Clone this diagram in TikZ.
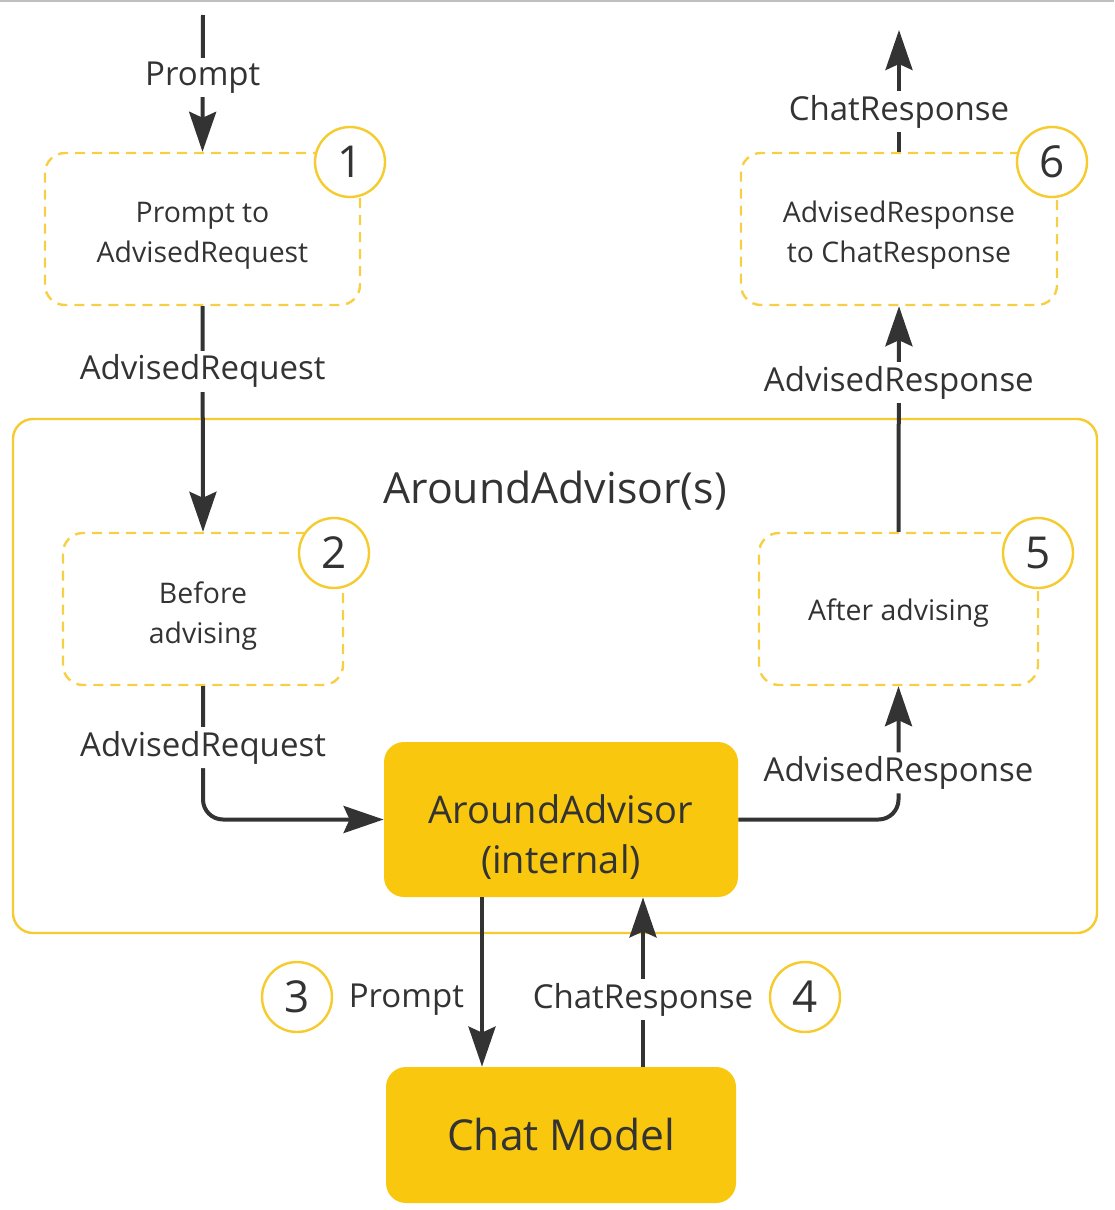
\documentclass[tikz,border=0pt]{standalone}
\usepackage{fontspec}
\setmainfont{Open Sans}
\usetikzlibrary{arrows.meta}
\definecolor{advyellow}{HTML}{F9C80E}
\definecolor{dashyellow}{HTML}{F6CF45}
\definecolor{ringyellow}{HTML}{F5CB2E}
\definecolor{inkgray}{HTML}{333333}

\begin{document}
\begin{tikzpicture}[x=0.5pt,y=-0.5pt,
    stepbox/.style={draw=dashyellow, line width=1.2pt, dash pattern=on 5pt off 3.5pt, rounded corners=10pt,
      minimum height=76pt, align=center, text=inkgray, text depth=0pt, font=\fontsize{14.2}{20}\selectfont},
    corebox/.style={fill=advyellow, rounded corners=10pt, align=center, text=inkgray},
    numcirc/.style={circle, draw=ringyellow, fill=white, line width=1.2pt, minimum size=35pt,
      inner sep=0pt, text=inkgray, font=\fontsize{22}{24}\selectfont},
    lbl/.style={fill=white, inner sep=2pt, text=inkgray, font=\fontsize{16.5}{20}\selectfont},
    arr/.style={draw=inkgray, line width=2pt, -{Stealth[length=20pt,width=13.5pt,inset=3pt]}},
  ]
  \useasboundingbox (0,0) rectangle (1114,1210);
  \draw[gray!50, line width=1pt] (0,1) -- (1114,1);
  % advisor group
  \node[draw=ringyellow, line width=1.2pt, rounded corners=10pt,
    minimum width=542pt, minimum height=257pt] (group) at (555,676) {};
  \node[text=inkgray, font=\fontsize{21.4}{24}\selectfont] (grouptitle) at (555,491) {AroundAdvisor(s)};
  % steps
  \node[stepbox, minimum width=157.5pt, text height=33pt] (toreq) at (202.5,229) {Prompt to\\AdvisedRequest};
  \node[stepbox, minimum width=140pt, text height=34pt] (before) at (203,609) {Before\\advising};
  \node[stepbox, minimum width=139.5pt, text height=11pt] (after) at (898.5,609) {After advising};
  \node[stepbox, minimum width=158pt, text height=33pt] (tochat) at (899,229) {AdvisedResponse\\to ChatResponse};
  \node[corebox, minimum width=177pt, minimum height=77.5pt, text height=53.5pt, text depth=0pt,
    font=\fontsize{19}{25}\selectfont] (core) at (561,819.5) {AroundAdvisor\\(internal)};
  \node[corebox, minimum width=175pt, minimum height=68pt,
    font=\fontsize{21.3}{24}\selectfont] (model) at (561,1135) {Chat Model};
  % flow
  \coordinate (promptin) at (203,15);
  \coordinate (chatout) at (899,30);
  \draw[arr] (promptin) -- node[lbl,pos=0.456] {Prompt} (toreq.north);
  \draw[arr] (toreq.south) -- node[lbl,pos=0.288] {AdvisedRequest} (before.north);
  \draw[arr, rounded corners=10pt] (before.south) -- node[lbl,pos=0.46] {AdvisedRequest}
    (before.south |- core.west) -- (core.west);
  \draw[arr] ([xshift=-39.5pt]core.south) -- node[lbl,pos=0.604,left=6pt,fill=none] {Prompt}
    ([xshift=-39.5pt]model.north);
  \draw[arr] ([xshift=41pt]model.north) -- node[lbl,pos=0.396] {ChatResponse} ([xshift=41pt]core.south);
  \draw[arr, rounded corners=10pt] (core.east) -- (core.east -| after.south)
    -- node[lbl,pos=0.35] {AdvisedResponse} (after.south);
  \draw[arr] (after.north) -- node[lbl,pos=0.662] {AdvisedResponse} (tochat.south);
  \draw[arr] (tochat.north) -- node[lbl,pos=0.33] {ChatResponse} (chatout);
  % numbers
  \node[numcirc] (n1) at (350,162) {1};
  \node[numcirc] (n2) at (334,553) {2};
  \node[numcirc] (n3) at (297,997) {3};
  \node[numcirc] (n4) at (805,997) {4};
  \node[numcirc] (n5) at (1038,553) {5};
  \node[numcirc] (n6) at (1052,162) {6};
\end{tikzpicture}
\end{document}
